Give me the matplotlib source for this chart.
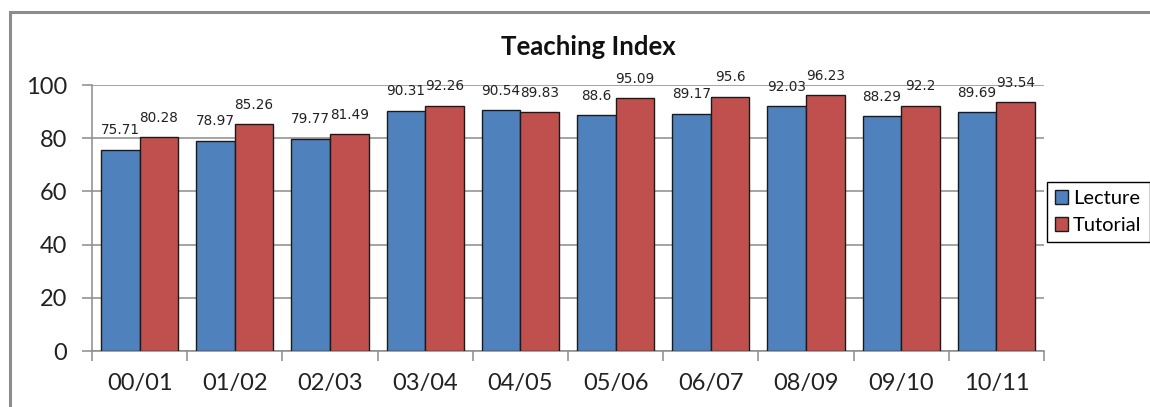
import matplotlib
matplotlib.use("Agg")
import matplotlib.pyplot as plt
import numpy as np
from matplotlib.patches import Rectangle

categories = ["00/01", "01/02", "02/03", "03/04", "04/05", "05/06", "06/07", "08/09", "09/10", "10/11"]
lecture = [75.71, 78.97, 79.77, 90.31, 90.54, 88.6, 89.17, 92.03, 88.29, 89.69]
tutorial = [80.28, 85.26, 81.49, 92.26, 89.83, 95.09, 95.6, 96.23, 92.2, 93.54]
lecture_labels = ["75.71", "78.97", "79.77", "90.31", "90.54", "88.6", "89.17", "92.03", "88.29", "89.69"]
tutorial_labels = ["80.28", "85.26", "81.49", "92.26", "89.83", "95.09", "95.6", "96.23", "92.2", "93.54"]
series_names = ["Lecture", "Tutorial"]
yticks = [0, 20, 40, 60, 80, 100]

W, H = 1150, 407
fig = plt.figure(figsize=(W / 100, H / 100), dpi=100)
fig.patch.set_facecolor("white")

# outer chart border
fig.patches.append(Rectangle((10 / W, -0.1), 1.2, 1 - 12 / H + 0.1, transform=fig.transFigure,
                             fill=False, edgecolor="#8c8c8c", linewidth=2.2, zorder=0))

ax = fig.add_axes([92 / W, 1 - 351 / H, (1044 - 92) / W, (351 - 85) / H])

x = np.arange(len(categories))
bw = 0.405
blue = "#4F81BD"
red = "#C0504D"
b1 = ax.bar(x - bw / 2, lecture, bw, color=blue, edgecolor="#1a1a1a", linewidth=1.0, zorder=3, label=series_names[0])
b2 = ax.bar(x + bw / 2, tutorial, bw, color=red, edgecolor="#1a1a1a", linewidth=1.0, zorder=3, label=series_names[1])

for xi, v, t in zip(x - bw / 2, lecture, lecture_labels):
    ax.annotate(t, (xi, v), xytext=(0, 9), textcoords="offset points", ha="center", va="bottom",
                fontsize=9.8, color="#222222", family="DejaVu Sans")
for xi, v, t in zip(x + bw / 2, tutorial, tutorial_labels):
    ax.annotate(t, (xi, v), xytext=(0, 9), textcoords="offset points", ha="center", va="bottom",
                fontsize=9.8, color="#222222", family="DejaVu Sans")

ax.set_xlim(-0.5, len(categories) - 0.5)
ax.set_ylim(0, 100)
ax.set_yticks(yticks)
ax.yaxis.grid(True, color="#8c8c8c", linewidth=1.1, zorder=0)
ax.set_axisbelow(True)

ax.set_xticks(x)
ax.set_xticklabels(categories, family="Lato", fontsize=17, color="#222222")
ax.set_xticks(np.arange(len(categories) + 1) - 0.5, minor=True)
ax.tick_params(axis="x", which="major", length=0, pad=16)
ax.tick_params(axis="x", which="minor", length=7, color="#8c8c8c", width=1.1)
ax.tick_params(axis="y", length=7, color="#8c8c8c", width=1.1, pad=11, labelsize=17, labelcolor="#222222")
for lab in ax.get_yticklabels():
    lab.set_family("Lato")

for s in ["top", "right"]:
    ax.spines[s].set_visible(False)
for s in ["left", "bottom"]:
    ax.spines[s].set_color("#8c8c8c")
    ax.spines[s].set_linewidth(1.1)

fig.text(588 / W, 1 - 47 / H, "Teaching Index", ha="center", va="center",
         fontsize=18.5, fontweight="bold", family="Lato", color="#111111")

leg = fig.legend(handles=[b1, b2], labels=series_names, loc="upper left",
                 bbox_to_anchor=(1047 / W, 1 - 182 / H), bbox_transform=fig.transFigure,
                 fancybox=False, edgecolor="#000000", framealpha=1, prop={"family": "Lato", "size": 14.5},
                 handlelength=0.65, handleheight=0.65, handletextpad=0.25, borderpad=0.4,
                 labelspacing=0.5, borderaxespad=0)
leg.get_frame().set_linewidth(1.0)

fig.savefig("out.png", dpi=100)
